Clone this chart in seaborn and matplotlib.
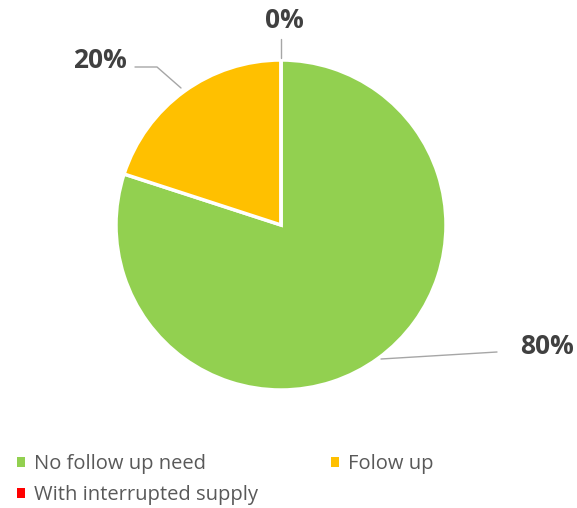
import matplotlib.pyplot as plt
import seaborn as sns

# data
categories = ["No follow up need", "Folow up", "With interrupted supply"]
shares = [80, 20, 0]
colors = ["#92D050", "#FFC000", "#FF0000"]

sns.set_style("white")
plt.rcParams['font.family'] = ['Open Sans', 'DejaVu Sans']

W, H = 577, 508
fig = plt.figure(figsize=(W / 100, H / 100), dpi=100)
ax = fig.add_axes([0, 0, 1, 1])


def py(y):
    # pixel row from top -> data y
    return H - y


wedges, _ = ax.pie(shares, colors=colors, startangle=90, counterclock=False,
                   center=(281, py(225)), radius=165, frame=True,
                   wedgeprops=dict(edgecolor='white', linewidth=2.5))
ax.set_xlim(0, W)
ax.set_ylim(0, H)
ax.set_aspect('equal')
ax.axis('off')

# data labels with leader lines
line_kw = dict(color='#A6A6A6', lw=1)
lab_kw = dict(fontsize=19, fontweight='bold', color='#404040')

ax.plot([381, 497], [py(359), py(352)], **line_kw)
ax.text(547, py(346), f"{shares[0]}%", ha='center', va='center', **lab_kw)

ax.plot([135, 157, 181], [py(67), py(67), py(88)], **line_kw)
ax.text(100, py(61), f"{shares[1]}%", ha='center', va='center', **lab_kw)

ax.plot([281, 281], [py(39), py(58)], **line_kw)
ax.text(284, py(21), f"{shares[2]}%", ha='center', va='center', **lab_kw)

# legend in row-major order
order = [0, 2, 1]
leg = fig.legend([wedges[i] for i in order], [categories[i] for i in order],
                 ncol=2, loc='upper left', frameon=False, borderpad=0,
                 fontsize=14.5, labelcolor='#595959',
                 handlelength=0.4, handleheight=0.4, handletextpad=0.45,
                 columnspacing=3.6, labelspacing=0.55)
leg.set_bbox_to_anchor((7 / W, 1 - 444 / H), transform=fig.transFigure)
for h in leg.legend_handles:
    h.set_edgecolor('none')

fig.savefig("out.png", dpi=100)
